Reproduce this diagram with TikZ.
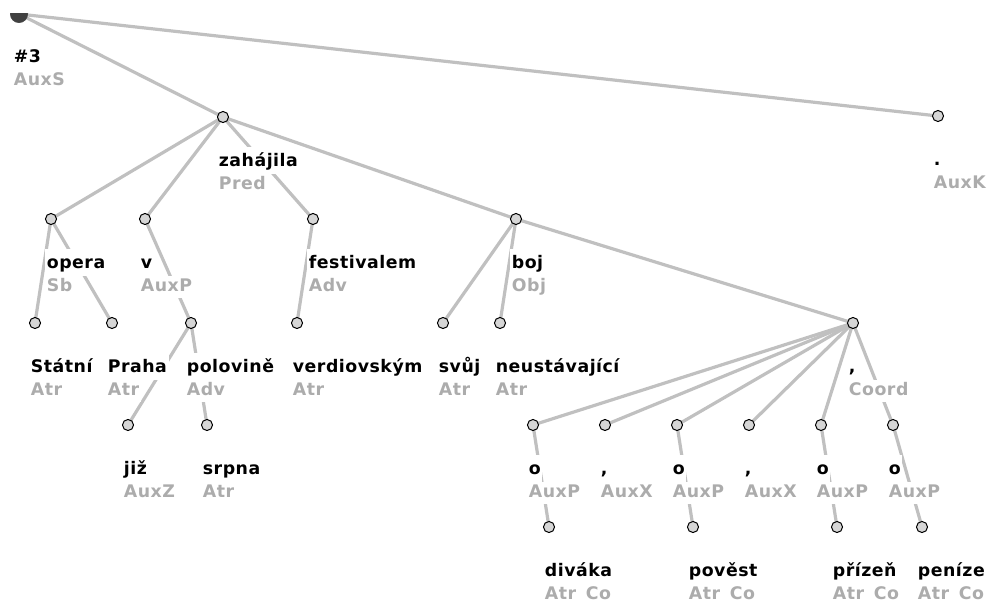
\documentclass[tikz,border=0pt]{standalone}
\usepackage{fontspec}
\newfontfamily\labfont{DejaVu Sans}[LetterSpace=3,WordSpace=1.5]
\usetikzlibrary{backgrounds}
\definecolor{edgegray}{RGB}{192,192,192}
\definecolor{labgray}{RGB}{172,172,172}
\definecolor{dotfill}{RGB}{214,214,214}
\definecolor{rootfill}{RGB}{64,64,64}
\newcommand\tnode[4]{%
  \node[dot] (#1) at (#2) {};
  \node[wlab] (#1w) at ([shift={(-6,49)}]#1.center) {#3};
  \node[glab] (#1g) at ([shift={(-6,72)}]#1.center) {#4};}
\begin{document}
\begin{tikzpicture}[x=0.75pt,y=-0.75pt,
  edge/.style={draw=edgegray,line width=2.4pt},
  dot/.style={circle,draw=black,fill=dotfill,line width=0.75pt,inner sep=0pt,minimum size=8.3pt},
  rootdot/.style={circle,fill=rootfill,draw=rootfill,inner sep=0pt,minimum size=13pt},
  lab/.style={anchor=base west,fill=white,inner xsep=1.2pt,inner ysep=0pt,font=\labfont\bfseries\fontsize{13}{15}\selectfont},
  wlab/.style={lab,text=black,text height=14pt,text depth=6pt},
  glab/.style={lab,text=labgray,text height=11pt,text depth=5pt}]
\useasboundingbox (0,0) rectangle (988,604);
\begin{scope}
\clip (0,13) rectangle (988,604);
\node[rootdot] (root) at (19,14) {};
\end{scope}
\node[wlab] (rootw) at ([shift={(-7,48)}]root.center) {\#3};
\node[glab] (rootg) at ([shift={(-7,71)}]root.center) {AuxS};
\tnode{zah}{223,117}{zahájila}{Pred}
\tnode{per}{938,116}{.}{AuxK}
\tnode{opera}{51,219}{opera}{Sb}
\tnode{v}{145,219}{v}{AuxP}
\tnode{fest}{313,219}{festivalem}{Adv}
\tnode{boj}{516,219}{boj}{Obj}
\tnode{statni}{35,323}{Státní}{Atr}
\tnode{praha}{112,323}{Praha}{Atr}
\tnode{polov}{191,323}{polovině}{Adv}
\tnode{verd}{297,323}{verdiovským}{Atr}
\tnode{svuj}{443,323}{svůj}{Atr}
\tnode{neust}{500,323}{neustávající}{Atr}
\tnode{coord}{853,323}{,}{Coord}
\tnode{jiz}{128,425}{již}{AuxZ}
\tnode{srpna}{207,425}{srpna}{Atr}
\tnode{oa}{533,425}{o}{AuxP}
\tnode{ca}{605,425}{,}{AuxX}
\tnode{ob}{677,425}{o}{AuxP}
\tnode{cb}{749,425}{,}{AuxX}
\tnode{oc}{821,425}{o}{AuxP}
\tnode{od}{893,425}{o}{AuxP}
\tnode{divaka}{549,527}{diváka}{Atr Co}
\tnode{povest}{693,527}{pověst}{Atr Co}
\tnode{prizen}{837,527}{přízeň}{Atr Co}
\tnode{penize}{922,527}{peníze}{Atr Co}
\begin{pgfonlayer}{background}
\clip (0,13) rectangle (988,604);
\foreach \a/\b in {root/zah,root/per,zah/opera,zah/v,zah/fest,zah/boj,
  opera/statni,opera/praha,v/polov,fest/verd,boj/svuj,boj/neust,boj/coord,
  polov/jiz,polov/srpna,coord/oa,coord/ca,coord/ob,coord/cb,coord/oc,coord/od,
  oa/divaka,ob/povest,oc/prizen,od/penize}
  \draw[edge] (\a.center) -- (\b.center);
\end{pgfonlayer}
\end{tikzpicture}
\end{document}
